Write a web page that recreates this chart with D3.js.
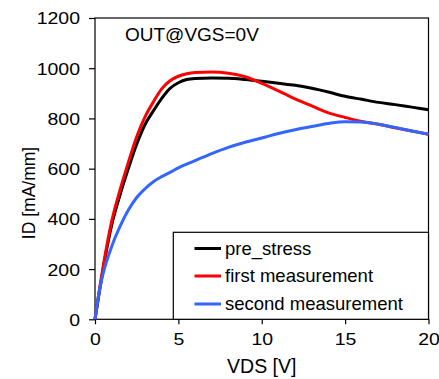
<!DOCTYPE html>
<html>
<head>
<meta charset="utf-8">
<script src="https://cdn.jsdelivr.net/npm/d3@7"></script>
<style>
  html, body { margin: 0; padding: 0; background: #fff; }
  svg { display: block; }
  text { font-family: "Liberation Sans", Arial, sans-serif; fill: #000; }
</style>
</head>
<body>
<script>
// Output characteristics, ID vs VDS at VGS = 0 V
const vds = [0, 0.25, 0.5, 1, 1.5, 2, 2.5, 3, 3.5, 4, 4.5, 5, 5.5, 6, 7, 8, 9, 10, 11, 12, 13, 14, 15, 16, 17, 18, 19, 20];
const preStress = [0, 105, 205, 375, 495, 600, 697, 776, 830, 880, 920, 942, 955, 959, 961, 960, 955, 948, 940, 932, 920, 905, 888, 876, 864, 855, 845, 835];
const firstMeas = [0, 112, 215, 390, 515, 625, 727, 806, 866, 918, 950, 968, 978, 983, 985, 980, 966, 940, 910, 878, 850, 822, 804, 788, 777, 763, 750, 737];
const secondMeas = [0, 110, 185, 290, 370, 435, 485, 520, 548, 568, 585, 603, 618, 632, 660, 685, 705, 722, 740, 755, 768, 780, 787, 786, 777, 764, 750, 737];

const seriesNames = ["pre_stress", "first measurement", "second measurement"];
const seriesColors = ["#000000", "#ff0000", "#3366ff"];
const seriesValues = [preStress, firstMeas, secondMeas];

const xTicks = [0, 5, 10, 15, 20];
const yTicks = [0, 200, 400, 600, 800, 1000, 1200];

const W = 439, H = 379;
const mLeft = 95, mRight = 428.5, mTop = 18, mBottom = 319.3;

const svg = d3.select("body").append("svg").attr("width", W).attr("height", H);

const x = d3.scaleLinear().domain([0, 20]).range([mLeft, mRight]);
const y = d3.scaleLinear().domain([0, 1200]).range([mBottom, mTop]);

// frame
svg.append("rect")
  .attr("x", mLeft).attr("y", mTop)
  .attr("width", mRight - mLeft).attr("height", mBottom - mTop)
  .attr("fill", "none").attr("stroke", "#000").attr("stroke-width", 1.2);

// axes
const xAxis = svg.append("g").attr("transform", `translate(0,${mBottom})`)
  .call(d3.axisBottom(x).tickValues(xTicks).tickSize(5).tickPadding(3).tickFormat(d3.format("d")));
const yAxis = svg.append("g").attr("transform", `translate(${mLeft},0)`)
  .call(d3.axisLeft(y).tickValues(yTicks).tickSize(6).tickPadding(9).tickFormat(d3.format("d")));

const stretch = 1.18;
[xAxis, yAxis].forEach(g => {
  g.select(".domain").remove();
  g.selectAll(".tick line").attr("stroke", "#000").attr("stroke-width", 1.2);
  g.selectAll(".tick text")
    .attr("font-family", "Liberation Sans, Arial, sans-serif")
    .attr("font-size", 16.5)
    .attr("fill", "#000");
});
xAxis.selectAll(".tick text").attr("dy", "1.05em").attr("transform", `scale(${stretch},1)`);
yAxis.selectAll(".tick text").each(function() {
  const t = d3.select(this);
  t.attr("dy", "0.36em")
   .attr("x", +t.attr("x") / stretch)
   .attr("transform", `scale(${stretch},1)`);
});

// curves
const line = d3.line()
  .x((d, i) => x(vds[i]))
  .y(d => y(d))
  .curve(d3.curveMonotoneX);

const plot = svg.append("g");
seriesValues.forEach((vals, k) => {
  plot.append("path")
    .datum(vals)
    .attr("d", line)
    .attr("fill", "none")
    .attr("stroke", seriesColors[k])
    .attr("stroke-width", 3)
    .attr("stroke-linejoin", "round");
});

// annotation
svg.append("text")
  .attr("x", 125).attr("y", 40.5)
  .attr("font-size", 19)
  .text("OUT@VGS=0V");

// axis titles
svg.append("text")
  .attr("x", (mLeft + mRight) / 2).attr("y", 373)
  .attr("text-anchor", "middle")
  .attr("font-size", 19.5)
  .text("VDS [V]");

svg.append("text")
  .attr("transform", `translate(35,193) rotate(-90)`)
  .attr("text-anchor", "middle")
  .attr("font-family", "'Open Sans', 'Noto Sans', sans-serif")
  .attr("font-size", 17.5)
  .text("ID [mA/mm]");

// legend
const lg = svg.append("g");
lg.append("rect")
  .attr("x", 173.3).attr("y", 232.3)
  .attr("width", mRight - 173.3).attr("height", mBottom - 232.3)
  .attr("fill", "#fff").attr("stroke", "#000").attr("stroke-width", 1.2);

const legY = [248.5, 276, 304];
seriesNames.forEach((name, k) => {
  lg.append("line")
    .attr("x1", 194.5).attr("x2", 221)
    .attr("y1", legY[k]).attr("y2", legY[k])
    .attr("stroke", seriesColors[k]).attr("stroke-width", 3);
  lg.append("text")
    .attr("x", 225).attr("y", legY[k] + 6.3)
    .attr("font-size", 18.5)
    .text(name);
});
</script>
</body>
</html>
